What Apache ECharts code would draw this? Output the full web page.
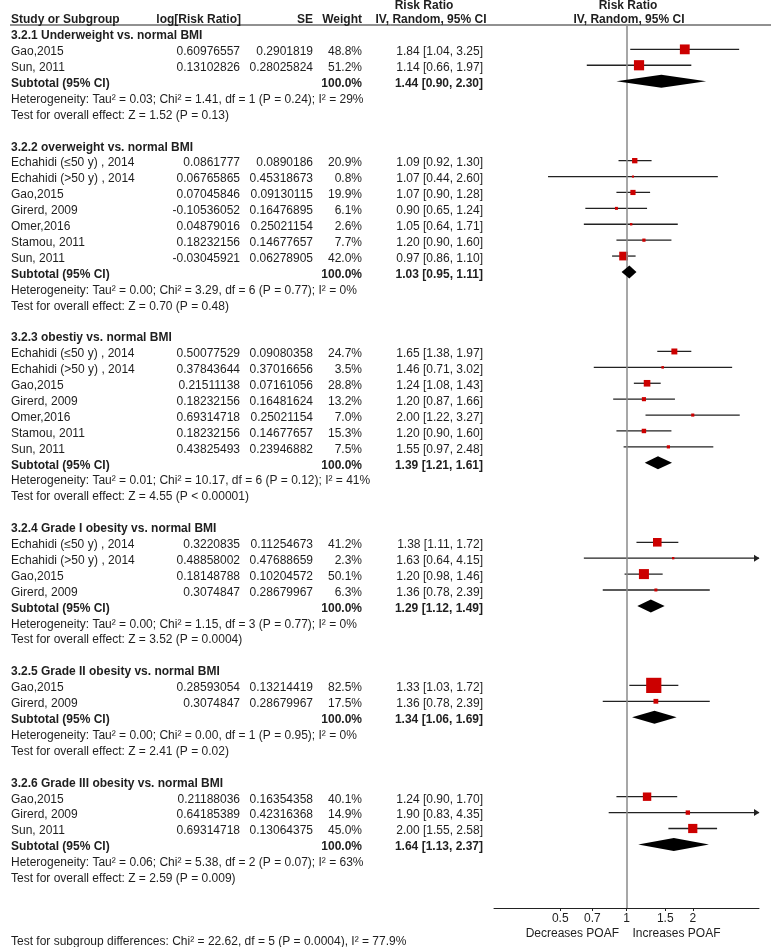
<!DOCTYPE html>
<html><head><meta charset="utf-8">
<script src="https://cdn.jsdelivr.net/npm/echarts@6/dist/echarts.min.js"></script>
<style>html,body{margin:0;padding:0;background:#fff}#c{width:771px;height:947px}</style>
</head><body><div id="c"></div>
<script>
const groupTitles = [
  "3.2.1 Underweight vs. normal BMI",
  "3.2.2 overweight vs. normal BMI",
  "3.2.3 obestiy vs. normal BMI",
  "3.2.4 Grade I obesity vs. normal BMI",
  "3.2.5 Grade II obesity vs. normal BMI",
  "3.2.6 Grade III obesity vs. normal BMI"
];
const studyNames = [
  ["Gao,2015", "Sun, 2011"],
  ["Echahidi (≤50 y) , 2014", "Echahidi (>50 y) , 2014", "Gao,2015", "Girerd, 2009", "Omer,2016", "Stamou, 2011", "Sun, 2011"],
  ["Echahidi (≤50 y) , 2014", "Echahidi (>50 y) , 2014", "Gao,2015", "Girerd, 2009", "Omer,2016", "Stamou, 2011", "Sun, 2011"],
  ["Echahidi (≤50 y) , 2014", "Echahidi (>50 y) , 2014", "Gao,2015", "Girerd, 2009"],
  ["Gao,2015", "Girerd, 2009"],
  ["Gao,2015", "Girerd, 2009", "Sun, 2011"]
];
const logRR = [
  ["0.60976557", "0.13102826"],
  ["0.0861777", "0.06765865", "0.07045846", "-0.10536052", "0.04879016", "0.18232156", "-0.03045921"],
  ["0.50077529", "0.37843644", "0.21511138", "0.18232156", "0.69314718", "0.18232156", "0.43825493"],
  ["0.3220835", "0.48858002", "0.18148788", "0.3074847"],
  ["0.28593054", "0.3074847"],
  ["0.21188036", "0.64185389", "0.69314718"]
];
const seValues = [
  ["0.2901819", "0.28025824"],
  ["0.0890186", "0.45318673", "0.09130115", "0.16476895", "0.25021154", "0.14677657", "0.06278905"],
  ["0.09080358", "0.37016656", "0.07161056", "0.16481624", "0.25021154", "0.14677657", "0.23946882"],
  ["0.11254673", "0.47688659", "0.10204572", "0.28679967"],
  ["0.13214419", "0.28679967"],
  ["0.16354358", "0.42316368", "0.13064375"]
];
const weights = [
  [48.8, 51.2],
  [20.9, 0.8, 19.9, 6.1, 2.6, 7.7, 42.0],
  [24.7, 3.5, 28.8, 13.2, 7.0, 15.3, 7.5],
  [41.2, 2.3, 50.1, 6.3],
  [82.5, 17.5],
  [40.1, 14.9, 45.0]
];
const rrValues = [
  [1.84, 1.14],
  [1.09, 1.07, 1.07, 0.90, 1.05, 1.20, 0.97],
  [1.65, 1.46, 1.24, 1.20, 2.00, 1.20, 1.55],
  [1.38, 1.63, 1.20, 1.36],
  [1.33, 1.36],
  [1.24, 1.90, 2.00]
];
const ciLower = [
  [1.04, 0.66],
  [0.92, 0.44, 0.90, 0.65, 0.64, 0.90, 0.86],
  [1.38, 0.71, 1.08, 0.87, 1.22, 0.90, 0.97],
  [1.11, 0.64, 0.98, 0.78],
  [1.03, 0.78],
  [0.90, 0.83, 1.55]
];
const ciUpper = [
  [3.25, 1.97],
  [1.30, 2.60, 1.28, 1.24, 1.71, 1.60, 1.10],
  [1.97, 3.02, 1.43, 1.66, 3.27, 1.60, 2.48],
  [1.72, 4.15, 1.46, 2.39],
  [1.72, 2.39],
  [1.70, 4.35, 2.58]
];
const subtotalRR = [1.44, 1.03, 1.39, 1.29, 1.34, 1.64];
const subtotalLower = [0.90, 0.95, 1.21, 1.12, 1.06, 1.13];
const subtotalUpper = [2.30, 1.11, 1.61, 1.49, 1.69, 2.37];
const heterogeneity = [
  "Heterogeneity: Tau² = 0.03; Chi² = 1.41, df = 1 (P = 0.24); I² = 29%",
  "Heterogeneity: Tau² = 0.00; Chi² = 3.29, df = 6 (P = 0.77); I² = 0%",
  "Heterogeneity: Tau² = 0.01; Chi² = 10.17, df = 6 (P = 0.12); I² = 41%",
  "Heterogeneity: Tau² = 0.00; Chi² = 1.15, df = 3 (P = 0.77); I² = 0%",
  "Heterogeneity: Tau² = 0.00; Chi² = 0.00, df = 1 (P = 0.95); I² = 0%",
  "Heterogeneity: Tau² = 0.06; Chi² = 5.38, df = 2 (P = 0.07); I² = 63%"
];
const overallEffect = [
  "Test for overall effect: Z = 1.52 (P = 0.13)",
  "Test for overall effect: Z = 0.70 (P = 0.48)",
  "Test for overall effect: Z = 4.55 (P < 0.00001)",
  "Test for overall effect: Z = 3.52 (P = 0.0004)",
  "Test for overall effect: Z = 2.41 (P = 0.02)",
  "Test for overall effect: Z = 2.59 (P = 0.009)"
];
const tickLabels = [0.5, 0.7, 1, 1.5, 2];
const axisRange = [0.25, 4];
const subgroupTest = "Test for subgroup differences: Chi² = 22.62, df = 5 (P = 0.0004), I² = 77.9%";
const columnHeaders = ["Study or Subgroup", "log[Risk Ratio]", "SE", "Weight"];
const effectHeader = ["Risk Ratio", "IV, Random, 95% CI"];
const favourLabels = ["Decreases POAF", "Increases POAF"];

const FONT = "'Liberation Sans', Arial, Helvetica, sans-serif";
const TXT = '#1e1e1e';
const RED = '#cc0000';
const COL = { name: 11, logrr: 240, se: 313, weight: 362, rr: 483 };

// rows layout
const rows = [];
let r = 0;
groupTitles.forEach((t, g) => {
  rows.push({ kind: 'title', row: r++, g });
  studyNames[g].forEach((n, i) => rows.push({ kind: 'study', row: r++, g, i }));
  rows.push({ kind: 'subtotal', row: r++, g });
  rows.push({ kind: 'het', row: r++, g });
  rows.push({ kind: 'test', row: r++, g });
  r++;
});
const fmtCI = (a, b, c) => a.toFixed(2) + ' [' + b.toFixed(2) + ', ' + c.toFixed(2) + ']';

const studyRows = rows.filter(d => d.kind === 'study');
const subRows = rows.filter(d => d.kind === 'subtotal');
const xMin = Math.log(axisRange[0]), xMax = Math.log(axisRange[1]);

const chart = echarts.init(document.getElementById('c'), null, { renderer: 'canvas' });

function textEl(s, x, y, align, bold) {
  return { type: 'text', style: { text: s, x: x, y: y, align: align, verticalAlign: 'middle',
    fontSize: 12, fontFamily: FONT, fontWeight: bold ? 'bold' : 'normal', fill: TXT } };
}

const option = {
  animation: false,
  backgroundColor: '#fff',
  grid: { left: 494, right: 12, top: 25.5, bottom: 39, containLabel: false },
  xAxis: {
    type: 'value', min: xMin, max: xMax, position: 'bottom',
    axisLine: { show: true, onZero: false, lineStyle: { color: '#222', width: 1 } },
    axisTick: { show: true, customValues: tickLabels.map(Math.log), length: 3, lineStyle: { color: '#222', width: 1 } },
    axisLabel: { show: true, customValues: tickLabels.map(Math.log), margin: 5, fontSize: 12, fontFamily: FONT, color: TXT,
      formatter: v => { const k = tickLabels.find(t => Math.abs(Math.log(t) - v) < 1e-6); return k === undefined ? '' : String(k); } },
    splitLine: { show: false }
  },
  yAxis: { type: 'value', inverse: true, min: -0.5, max: 55, show: false },
  series: [
    { // reference line at RR = 1
      type: 'line', data: [], z: 1, silent: true,
      markLine: { silent: true, symbol: 'none', label: { show: false },
        lineStyle: { color: '#8a8a8a', width: 1.5, type: 'solid' }, data: [{ xAxis: 0 }] }
    },
    { // CI lines
      type: 'custom', z: 3, clip: false,
      data: studyRows.map(d => [Math.log(ciLower[d.g][d.i]), Math.log(ciUpper[d.g][d.i]), d.row]),
      encode: { x: [0, 1], y: 2 },
      renderItem: (params, api) => {
        const lo = api.value(0), hi = api.value(1), row = api.value(2);
        const p1 = api.coord([Math.max(lo, xMin), row]);
        const p2 = api.coord([Math.min(hi, xMax), row]);
        const ch = [{ type: 'line', shape: { x1: p1[0], y1: p1[1], x2: p2[0], y2: p2[1] },
          style: { stroke: '#222', lineWidth: 1.3 } }];
        if (hi > xMax) ch.push({ type: 'polygon', shape: { points: [[p2[0] + 0.5, p2[1]], [p2[0] - 5, p2[1] - 3.5], [p2[0] - 5, p2[1] + 3.5]] },
          style: { fill: '#222' } });
        if (lo < xMin) ch.push({ type: 'polygon', shape: { points: [[p1[0] - 0.5, p1[1]], [p1[0] + 5, p1[1] - 3.5], [p1[0] + 5, p1[1] + 3.5]] },
          style: { fill: '#222' } });
        return { type: 'group', children: ch };
      }
    },
    { // study squares
      type: 'scatter', z: 4, symbol: 'rect',
      data: studyRows.map(d => [Math.log(rrValues[d.g][d.i]), d.row, weights[d.g][d.i]]),
      symbolSize: v => 2 + 0.16 * v[2],
      itemStyle: { color: RED, opacity: 1 }
    },
    { // subtotal diamonds
      type: 'custom', z: 5, clip: false,
      data: subRows.map(d => [Math.log(subtotalLower[d.g]), Math.log(subtotalRR[d.g]), Math.log(subtotalUpper[d.g]), d.row]),
      encode: { x: [0, 1, 2], y: 3 },
      renderItem: (params, api) => {
        const row = api.value(3);
        const a = api.coord([api.value(0), row]), m = api.coord([api.value(1), row]), b = api.coord([api.value(2), row]);
        return { type: 'polygon', shape: { points: [[a[0], a[1]], [m[0], m[1] - 6.5], [b[0], b[1]], [m[0], m[1] + 6.5]] },
          style: { fill: '#000' } };
      }
    },
    { // table text
      type: 'custom', z: 6, clip: false, silent: true,
      data: rows.map(d => [0, d.row]),
      encode: { x: 0, y: 1 },
      renderItem: (params, api) => {
        const d = rows[params.dataIndex];
        const y = api.coord([0, d.row])[1] + 2.5;
        const ch = [];
        const g = d.g;
        if (d.kind === 'title') ch.push(textEl(groupTitles[g], COL.name, y, 'left', true));
        else if (d.kind === 'study') {
          const i = d.i;
          ch.push(textEl(studyNames[g][i], COL.name, y, 'left', false));
          ch.push(textEl(logRR[g][i], COL.logrr, y, 'right', false));
          ch.push(textEl(seValues[g][i], COL.se, y, 'right', false));
          ch.push(textEl(weights[g][i].toFixed(1) + '%', COL.weight, y, 'right', false));
          ch.push(textEl(fmtCI(rrValues[g][i], ciLower[g][i], ciUpper[g][i]), COL.rr, y, 'right', false));
        } else if (d.kind === 'subtotal') {
          ch.push(textEl('Subtotal (95% CI)', COL.name, y, 'left', true));
          ch.push(textEl('100.0%', COL.weight, y, 'right', true));
          ch.push(textEl(fmtCI(subtotalRR[g], subtotalLower[g], subtotalUpper[g]), COL.rr, y, 'right', true));
        } else if (d.kind === 'het') ch.push(textEl(heterogeneity[g], COL.name, y, 'left', false));
        else if (d.kind === 'test') ch.push(textEl(overallEffect[g], COL.name, y, 'left', false));
        return { type: 'group', children: ch };
      }
    }
  ]
};
chart.setOption(option);

const x1 = chart.convertToPixel({ xAxisIndex: 0 }, 0);
const gText = (s, x, y, align, bold) => ({ type: 'text', silent: true, x: 0, y: 0,
  style: { text: s, x: x, y: y, align: align, verticalAlign: 'middle', fontSize: 12, fontFamily: FONT,
    fontWeight: bold ? 'bold' : 'normal', fill: TXT } });
chart.setOption({
  graphic: [
    { type: 'line', silent: true, shape: { x1: 10, y1: 25, x2: 771, y2: 25 }, style: { stroke: '#222', lineWidth: 1 } },
    gText(columnHeaders[0], COL.name, 20, 'left', true),
    gText(columnHeaders[1], COL.logrr + 1, 20, 'right', true),
    gText(columnHeaders[2], COL.se, 20, 'right', true),
    gText(columnHeaders[3], COL.weight, 20, 'right', true),
    gText(effectHeader[0], 424, 5.5, 'center', true),
    gText(effectHeader[1], 431, 20, 'center', true),
    gText(effectHeader[0], x1 + 1.5, 5.5, 'center', true),
    gText(effectHeader[1], x1 + 2.5, 20, 'center', true),
    gText(favourLabels[0], x1 - 7.5, 934, 'right', false),
    gText(favourLabels[1], x1 + 6, 934, 'left', false),
    gText(subgroupTest, COL.name, 941.5, 'left', false)
  ]
});
</script></body></html>
